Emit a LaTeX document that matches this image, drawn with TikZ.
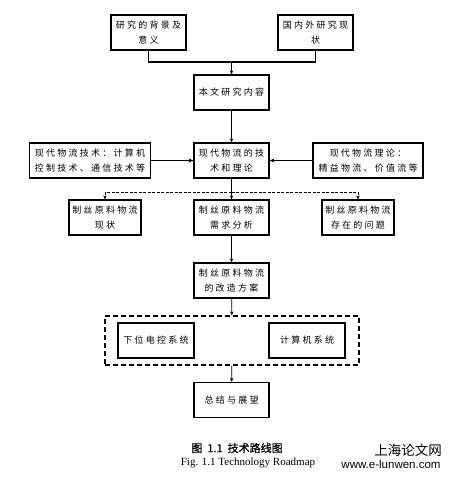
\documentclass[tikz,border=0pt]{standalone}
\usepackage{fontspec}
\setmainfont{Liberation Serif}
\newfontfamily\cjk[LetterSpace=25]{Noto Sans CJK SC}
\newfontfamily\cjkcap[AutoFakeBold=1]{Noto Sans CJK SC}
\newfontfamily\cjkmark{Noto Sans CJK SC}
\newfontfamily\urlfont{Liberation Sans}
\usetikzlibrary{arrows.meta}
\newcommand{\bw}{75pt}

\begin{document}
\begin{tikzpicture}[x=1pt,y=-1pt,
    box/.style={draw, rectangle, line width=1.2pt, minimum width=\bw, minimum height=35pt, inner sep=0pt, align=center, font=\cjk\fontsize{9}{15}\selectfont},
    link/.style={line width=0.8pt, -{Stealth[length=4pt,width=3.5pt]}},
    feed/.style={line width=1.4pt, -{Stealth[length=5pt,width=4pt]}}]
    \useasboundingbox (0,0) rectangle (454,493);

    % Top row
    \node[box] (bg) at (148.5,32.5) {研究的背景及\\意义};
    \node[box] (gn) at (315.5,32.5) {国内外研究现\\状};
    \node[box] (bw) at (231.5,92.5) {本文研究内容};

    % Theory row
    \node[box] (js) at (231.5,160.5) {现代物流的技\\术和理论};
    \node[box, minimum width=121pt] (jl) at (90,160.5) {现代物流技术：计算机\\控制技术、通信技术等};
    \node[box, minimum width=110pt] (ll) at (368,160.5) {现代物流理论：\\精益物流、价值流等};

    % Analysis row
    \node[box, minimum width=72pt] (xz) at (105,217.5) {制丝原料物流\\现状};
    \node[box] (xq) at (231.5,217.5) {制丝原料物流\\需求分析};
    \node[box, minimum width=72pt] (wt) at (358,217.5) {制丝原料物流\\存在的问题};

    \node[box] (fa) at (231.5,280.5) {制丝原料物流\\的改造方案};

    % Systems
    \node[draw, dashed, line width=1.2pt, dash pattern=on 5pt off 3pt, minimum width=254pt, minimum height=49pt, inner sep=0pt] (xt) at (232,340.5) {};
    \node[box, minimum width=76pt] (dk) at (156,340.5) {下位电控系统};
    \node[box, minimum width=76pt] (jsj) at (307,340.5) {计算机系统};

    \node[box] (zj) at (231.5,400) {总结与展望};

    % Connectors
    \coordinate (hb) at (231.5,62);
    \coordinate (fl) at (231.5,192);
    \draw[line width=1.2pt] (bg.south) |- (hb) -| (gn.south);
    \draw[link] (hb) -- (bw.north);
    \draw[link] (bw) -- (js);
    \draw[feed] (jl) -- (js);
    \draw[feed] (ll) -- (js);
    \draw[link] (js) -- (xq);
    \draw[link, dashed, dash pattern=on 3pt off 1.5pt] (fl) -| (xz.north);
    \draw[link, dashed, dash pattern=on 3pt off 1.5pt] (fl) -| (wt.north);
    \draw[link] (xq) -- (fa);
    \draw[link] (fa) -- (xt);
    \draw[link] (xt) -- (zj);

    % Caption
    \node[font=\cjkcap\bfseries\fontsize{11}{13}\selectfont] (tt) at (237,448) {图\hspace{5pt}1.1\hspace{5pt}技术路线图};
    \node[font=\fontsize{11}{13}\selectfont] (en) at (248,463) {Fig. 1.1 Technology Roadmap};
    \node[font=\cjkmark\fontsize{13.5}{15}\selectfont] (wm) at (408,450) {上海论文网};
    \node[font=\urlfont\fontsize{11.5}{13}\selectfont] (url) at (391,464) {www.e-lunwen.com};
\end{tikzpicture}
\end{document}
